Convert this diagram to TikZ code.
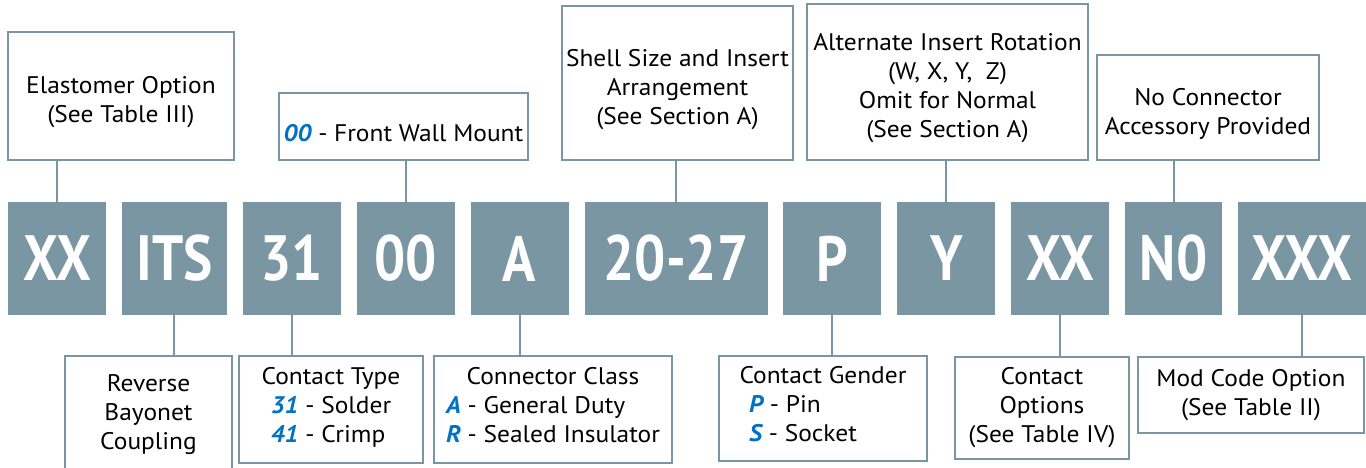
\documentclass[tikz,border=0pt]{standalone}
\usepackage{fontspec}
\setmainfont{PT Sans}[FakeStretch=1.06]
\newfontfamily\codefont[FakeStretch=0.86]{PT Sans}
\usepackage{tikz}
\usetikzlibrary{positioning}
\definecolor{slate}{HTML}{7A96A3}
\definecolor{codeblue}{HTML}{0072C6}
\newcommand{\codeval}[1]{{\color{codeblue}\bfseries\itshape #1}}
\newcommand{\lift}{\rule{0pt}{30pt}}

\begin{document}
\begin{tikzpicture}[x=1pt,y=-1pt]

         %%%%%%%%%%%%%%%%%%%%%%%%%%%%%%%%%%%%%%%%%%%%%%%%%%%%%%%%%%%%%%%%%%%%%%
         % Parameters
         %%%%%%%%%%%%%%%%%%%%%%%%%%%%%%%%%%%%%%%%%%%%%%%%%%%%%%%%%%%%%%%%%%%%%%
         \def\ycode{258.5}
         \def\ytop{161}
         \def\ybot{355}
         \def\gap{15.5pt}

         % styles for code blocks, info boxes and links
         \tikzset{
            codebox/.style={
            fill=slate, text=white, inner sep=0pt,
            minimum height=113pt,
            font=\codefont\bfseries\fontsize{64}{64}\selectfont
            },
            infobox/.style={
            draw=slate, line width=2pt, fill=white,
            inner sep=0pt, align=center,
            font=\fontsize{24}{29}\selectfont
            },
            topbox/.style={infobox, anchor=south},
            link/.style={draw=slate, line width=2pt}
         }

         \useasboundingbox (0,0) rectangle (1366,468);

         %%%%%%%%%%%%%%%%%%%%%%%%%%%%%%%%%%%%%%%%%%%%%%%%%%%%%%%%%%%%%%%%%%%%%%
         % Part number row
         %%%%%%%%%%%%%%%%%%%%%%%%%%%%%%%%%%%%%%%%%%%%%%%%%%%%%%%%%%%%%%%%%%%%%%
         \node[codebox, minimum width=98pt] (cElast) at (57,\ycode) {XX};
         \node[codebox, minimum width=105pt, right=\gap of cElast] (cSeries) {ITS};
         \node[codebox, minimum width=98pt, right=\gap of cSeries] (cType) {31};
         \node[codebox, minimum width=98pt, right=\gap of cType] (cMount) {00};
         \node[codebox, minimum width=98pt, right=\gap of cMount] (cClass) {A};
         \node[codebox, minimum width=183pt, right=\gap of cClass] (cShell) {20-27};
         \node[codebox, minimum width=98pt, right=\gap of cShell] (cGender) {P};
         \node[codebox, minimum width=98pt, right=\gap of cGender] (cRot) {Y};
         \node[codebox, minimum width=98pt, right=\gap of cRot] (cOpts) {XX};
         \node[codebox, minimum width=97pt, right=\gap of cOpts] (cAcc) {N0};
         \node[codebox, minimum width=128pt, right=\gap of cAcc] (cMod) {XXX};

         %%%%%%%%%%%%%%%%%%%%%%%%%%%%%%%%%%%%%%%%%%%%%%%%%%%%%%%%%%%%%%%%%%%%%%
         % Boxes above
         %%%%%%%%%%%%%%%%%%%%%%%%%%%%%%%%%%%%%%%%%%%%%%%%%%%%%%%%%%%%%%%%%%%%%%
         \node[topbox, minimum width=226pt, minimum height=128pt]
         (elast) at (121,\ytop) {\lift Elastomer Option\\(See Table III)};
         \node[topbox, minimum width=249pt, minimum height=67pt]
         (mount) at (403.5,\ytop) {\lift\codeval{00} - Front Wall Mount};
         \node[topbox, minimum width=231pt, minimum height=154pt]
         (shell) at (677.5,\ytop) {\lift Shell Size and Insert\\Arrangement\\(See Section A)};
         \node[topbox, minimum width=281pt, minimum height=156pt]
         (rot) at (947.5,\ytop) {\lift Alternate Insert Rotation\\(W, X, Y,\ \ Z)\\Omit for Normal\\(See Section A)};
         \node[topbox, minimum width=222pt, minimum height=105pt]
         (acc) at (1208,\ytop) {\lift No Connector\\Accessory Provided};

         \draw[link] (cElast.north) -- (cElast.north |- elast.south);
         \draw[link] (cMount.north) -- (cMount.north |- mount.south);
         \draw[link] (cShell.north) -- (cShell.north |- shell.south);
         \draw[link] (cRot.north) -- (cRot.north |- rot.south);
         \draw[link] (cAcc.north) -- (cAcc.north |- acc.south);

         %%%%%%%%%%%%%%%%%%%%%%%%%%%%%%%%%%%%%%%%%%%%%%%%%%%%%%%%%%%%%%%%%%%%%%
         % Boxes below
         %%%%%%%%%%%%%%%%%%%%%%%%%%%%%%%%%%%%%%%%%%%%%%%%%%%%%%%%%%%%%%%%%%%%%%
         \node[infobox, anchor=north, minimum width=167pt, minimum height=118pt]
         (series) at (148.5,\ybot) {Reverse\\Bayonet\\Coupling};
         \node[infobox, anchor=north, minimum width=184pt, minimum height=107pt]
         (type) at (331,\ybot) {Contact Type\\\begin{tabular}[t]{@{}l@{}}\codeval{31} - Solder\\\codeval{41} - Crimp\end{tabular}};
         \node[infobox, anchor=north, minimum width=238pt, minimum height=107pt]
         (class) at (553,\ybot) {Connector Class\\\begin{tabular}[t]{@{}l@{}}\codeval{A} - General Duty\\\codeval{R} - Sealed Insulator\end{tabular}};
         \node[infobox, anchor=north, minimum width=208pt, minimum height=105pt]
         (gender) at (823,\ybot) {Contact Gender\\\begin{tabular}[t]{@{}l@{\hspace{40pt}}}\codeval{P} - Pin\\\codeval{S} - Socket\end{tabular}};
         \node[infobox, anchor=north, minimum width=174pt, minimum height=102pt]
         (opts) at (1042,356) {Contact\\Options\\(See Table IV)};
         \node[infobox, anchor=north, minimum width=226pt, minimum height=76pt]
         (mod) at (1251,356) {Mod Code Option\\(See Table II)};

         \draw[link] (cSeries.south) -- (cSeries.south |- series.north);
         \draw[link] (cType.south) -- (cType.south |- type.north);
         \draw[link] (cClass.south) -- (cClass.south |- class.north);
         \draw[link] (cGender.south) -- (cGender.south |- gender.north);
         \draw[link] (cOpts.south) -- (cOpts.south |- opts.north);
         \draw[link] (cMod.south) -- (cMod.south |- mod.north);

\end{tikzpicture}
\end{document}
